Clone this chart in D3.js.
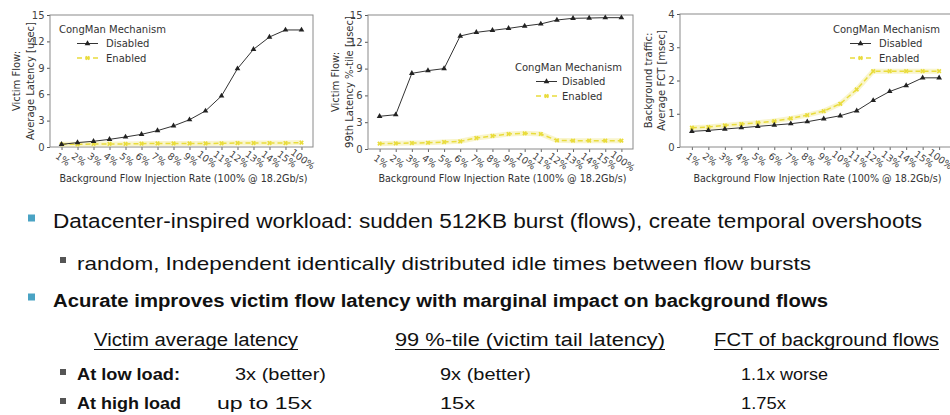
<!DOCTYPE html>
<html>
<head>
<meta charset="utf-8">
<script src="https://cdn.jsdelivr.net/npm/d3@7"></script>
<style>
  html, body { margin: 0; padding: 0; background: #fff; }
  svg { display: block; }
  .tick-lbl { font-family: "DejaVu Sans", sans-serif; fill: #444; }
  .ax-title { font-family: "DejaVu Sans", sans-serif; fill: #333; }
  .slide { font-family: "Liberation Sans", Arial, sans-serif; fill: #111; }
</style>
</head>
<body>
<svg id="chart" width="950" height="415"></svg>
<script>
// Background flow injection rates (x categories shared by all three panels)
const categories = ["1%", "2%", "3%", "4%", "5%", "6%", "7%", "8%", "9%", "10%", "11%", "12%", "13%", "14%", "15%", "100%"];

// Victim flow average latency [usec]
const avgLatencyDisabled = [0.3, 0.5, 0.65, 0.87, 1.14, 1.44, 1.86, 2.4, 3.1, 4.1, 5.8, 8.9, 11.1, 12.5, 13.3, 13.3];
const avgLatencyEnabled  = [0.3, 0.3, 0.35, 0.35, 0.35, 0.38, 0.4, 0.4, 0.4, 0.4, 0.42, 0.45, 0.45, 0.45, 0.45, 0.5];

// Victim flow 99th percentile latency [usec]
const tailLatencyDisabled = [3.66, 3.84, 8.47, 8.77, 9.0, 12.65, 13.06, 13.28, 13.5, 13.77, 14.0, 14.44, 14.63, 14.66, 14.7, 14.7];
const tailLatencyEnabled  = [0.6, 0.63, 0.67, 0.7, 0.78, 0.86, 1.23, 1.46, 1.68, 1.75, 1.68, 0.97, 0.93, 0.93, 0.93, 0.93];

// Background traffic average FCT [msec]
const fctDisabled = [0.47, 0.5, 0.54, 0.58, 0.62, 0.66, 0.7, 0.76, 0.85, 0.94, 1.09, 1.4, 1.67, 1.85, 2.08, 2.08];
const fctEnabled  = [0.58, 0.6, 0.65, 0.69, 0.73, 0.78, 0.86, 0.96, 1.08, 1.3, 1.73, 2.28, 2.28, 2.28, 2.28, 2.28];

// Tick labels
const latencyTicks = [0, 3, 6, 9, 12, 15];
const fctTicks = [0, 1, 2, 3, 4];

const seriesNames = ["Disabled", "Enabled"];
const legendTitle = "CongMan Mechanism";
const xTitle = "Background Flow Injection Rate (100% @ 18.2Gb/s)";

const DARK = "#222";
const YELLOW = "#e9dc3c";

const panels = [
  { frame: { x0: 50, x1: 313, y0: 15, y1: 147 }, yMax: 15, ticks: latencyTicks,
    series: [avgLatencyDisabled, avgLatencyEnabled],
    yTitle: ["Victim Flow:", "Average Latency [usec]"], yTitleX: [16, 30],
    legend: { x: 59, y: 29, lineX: 77, textX: 106 } },
  { frame: { x0: 368, x1: 633, y0: 15, y1: 149 }, yMax: 15, ticks: latencyTicks,
    series: [tailLatencyDisabled, tailLatencyEnabled],
    yTitle: ["Victim Flow:", "99th Latency %-tile [usec]"], yTitleX: [335, 349],
    legend: { x: 515, y: 67, lineX: 536, textX: 562 } },
  { frame: { x0: 680, x1: 951, y0: 14, y1: 147 }, yMax: 4, ticks: fctTicks,
    series: [fctDisabled, fctEnabled],
    yTitle: ["Background traffic:", "Average FCT [msec]"], yTitleX: [648, 661],
    legend: { x: 833, y: 29, lineX: 850, textX: 879 } }
];

const svg = d3.select("#chart");

const triangle = d3.symbol().type(d3.symbolTriangle).size(14);
const cross = d3.symbol().type(d3.symbolCross).size(14);

function drawMarker(g, x, y, i) {
  if (i === 0) {
    g.append("path").attr("d", triangle).attr("transform", `translate(${x},${y})`).attr("fill", DARK);
  } else {
    g.append("path").attr("d", cross).attr("transform", `translate(${x},${y}) rotate(45)`).attr("fill", YELLOW);
  }
}

panels.forEach(p => {
  const f = p.frame;
  const g = svg.append("g");
  const x = d3.scalePoint().domain(categories).range([f.x0, f.x1]).padding(0.72);
  const y = d3.scaleLinear().domain([0, p.yMax]).range([f.y1, f.y0]);

  // y axis
  const yAxis = g.append("g").attr("transform", `translate(${f.x0},0)`)
    .call(d3.axisLeft(y).tickValues(p.ticks).tickFormat(d3.format("d")).tickSize(3).tickPadding(2.5));
  yAxis.select(".domain").remove();
  yAxis.selectAll("line").attr("stroke", "#555");
  yAxis.selectAll("text").attr("class", "tick-lbl").style("font-size", "10px").attr("fill", "#444");

  // x axis with slanted labels
  const xAxis = g.append("g").attr("transform", `translate(0,${f.y1})`)
    .call(d3.axisBottom(x).tickSize(3));
  xAxis.select(".domain").remove();
  xAxis.selectAll("line").attr("stroke", "#666");
  xAxis.selectAll("text")
    .attr("class", "tick-lbl")
    .style("font-size", "9.5px")
    .attr("fill", "#444")
    .attr("y", 0).attr("dy", null)
    .attr("text-anchor", "middle")
    .attr("dominant-baseline", "central")
    .attr("transform", "translate(1,12) rotate(36)");

  // frame
  g.append("rect").attr("x", f.x0).attr("y", f.y0)
    .attr("width", f.x1 - f.x0).attr("height", f.y1 - f.y0)
    .attr("fill", "none").attr("stroke", "#8a8a8a").attr("stroke-width", 1);

  // series
  const line = d3.line().x((d, i) => x(categories[i])).y(d => y(d)).curve(d3.curveLinear);
  const enabled = p.series[1], disabled = p.series[0];
  // soft halo under the enabled line
  g.append("path").datum(enabled).attr("d", line)
    .attr("fill", "none").attr("stroke", "#f3ec9a").attr("stroke-opacity", 0.5)
    .attr("stroke-width", 5).attr("stroke-linejoin", "round");
  g.append("path").datum(enabled).attr("d", line)
    .attr("fill", "none").attr("stroke", YELLOW).attr("stroke-width", 1.5)
    .attr("stroke-dasharray", "5,3");
  enabled.forEach((v, i) => drawMarker(g, x(categories[i]), y(v), 1));

  g.append("path").datum(disabled).attr("d", line)
    .attr("fill", "none").attr("stroke", "#333").attr("stroke-width", 1);
  disabled.forEach((v, i) => drawMarker(g, x(categories[i]), y(v), 0));

  // axis titles
  const cy = (f.y0 + f.y1) / 2;
  p.yTitle.forEach((t, k) => {
    g.append("text").attr("class", "ax-title")
      .attr("transform", `translate(${p.yTitleX[k]},${cy}) rotate(-90)`)
      .attr("text-anchor", "middle").attr("dominant-baseline", "central")
      .style("font-size", "10px").text(t);
  });
  g.append("text").attr("class", "ax-title")
    .attr("x", (f.x0 + f.x1) / 2 + 2).attr("y", 182)
    .attr("text-anchor", "middle").style("font-size", "9.6px").text(xTitle);

  // legend
  const L = p.legend;
  g.append("text").attr("class", "ax-title").attr("x", L.x).attr("y", L.y)
    .attr("dominant-baseline", "central").style("font-size", "10px").text(legendTitle);
  seriesNames.forEach((name, i) => {
    const ly = L.y + 14.5 * (i + 1);
    g.append("line").attr("x1", L.lineX).attr("x2", L.lineX + 21).attr("y1", ly).attr("y2", ly)
      .attr("stroke", i === 0 ? "#333" : YELLOW).attr("stroke-width", i === 0 ? 1 : 1.5)
      .attr("stroke-dasharray", i === 0 ? null : "5,3");
    drawMarker(g, L.lineX + 10.5, ly, i);
    g.append("text").attr("class", "ax-title").attr("x", L.textX).attr("y", ly)
      .attr("dominant-baseline", "central").style("font-size", "10px").text(name);
  });
});

// Slide bullet text below the charts
const bulletLines = [
  { text: "Datacenter-inspired workload:  sudden 512KB burst (flows), create temporal overshoots", x: 53, y: 228, size: 20.5, bold: false, width: 869, bullet: { x: 28, color: "#4aa3c4", s: 7 } },
  { text: "random, Independent identically distributed idle times between flow bursts", x: 77, y: 270, size: 19, bold: false, width: 734, bullet: { x: 60, color: "#555", s: 6 } },
  { text: "Acurate improves victim flow latency with marginal impact on background flows", x: 53, y: 307, size: 17.5, bold: true, width: 775, bullet: { x: 28, color: "#4aa3c4", s: 7 } }
];
const headers = [
  { text: "Victim average latency", x: 94, width: 204 },
  { text: "99 %-tile (victim tail latency)", x: 395, width: 270 },
  { text: "FCT of background flows", x: 714, width: 225 }
];
const rowLabels = ["At low load:", "At high load"];
const rowAvg = ["3x  (better)", "up to 15x"];
const rowTail = ["9x  (better)", "15x"];
const rowFct = ["1.1x worse", "1.75x"];

const slide = svg.append("g");
bulletLines.forEach(b => {
  slide.append("rect").attr("x", b.bullet.x).attr("y", b.y - 10 - b.bullet.s / 2)
    .attr("width", b.bullet.s).attr("height", b.bullet.s).attr("fill", b.bullet.color);
  slide.append("text").attr("class", "slide").attr("x", b.x).attr("y", b.y)
    .style("font-size", b.size + "px").style("font-weight", b.bold ? "bold" : "normal")
    .attr("textLength", b.width).attr("lengthAdjust", "spacingAndGlyphs").text(b.text);
});
headers.forEach(h => {
  slide.append("text").attr("class", "slide").attr("x", h.x).attr("y", 346)
    .style("font-size", "18px").attr("textLength", h.width).attr("lengthAdjust", "spacingAndGlyphs").text(h.text);
  slide.append("line").attr("x1", h.x).attr("x2", h.x + h.width).attr("y1", 349.5).attr("y2", 349.5)
    .attr("stroke", "#111").attr("stroke-width", 1);
});
const rowY = [380, 409];
const colW = { label: [103, 104], avg: [91, 95], tail: [91, 35], fct: [87, 45] };
rowLabels.forEach((lbl, r) => {
  const yy = rowY[r];
  slide.append("rect").attr("x", 60).attr("y", yy - 11).attr("width", 6).attr("height", 6).attr("fill", "#555");
  slide.append("text").attr("class", "slide").attr("x", 77).attr("y", yy).style("font-size", "17px")
    .style("font-weight", "bold").attr("textLength", colW.label[r]).attr("lengthAdjust", "spacingAndGlyphs").text(lbl);
  slide.append("text").attr("class", "slide").attr("x", r === 0 ? 235 : 217).attr("y", yy).style("font-size", "17px")
    .attr("textLength", colW.avg[r]).attr("lengthAdjust", "spacingAndGlyphs").text(rowAvg[r]);
  slide.append("text").attr("class", "slide").attr("x", 440).attr("y", yy).style("font-size", "17px")
    .attr("textLength", colW.tail[r]).attr("lengthAdjust", "spacingAndGlyphs").text(rowTail[r]);
  slide.append("text").attr("class", "slide").attr("x", 741).attr("y", yy).style("font-size", "17px")
    .attr("textLength", colW.fct[r]).attr("lengthAdjust", "spacingAndGlyphs").text(rowFct[r]);
});
</script>
</body>
</html>
